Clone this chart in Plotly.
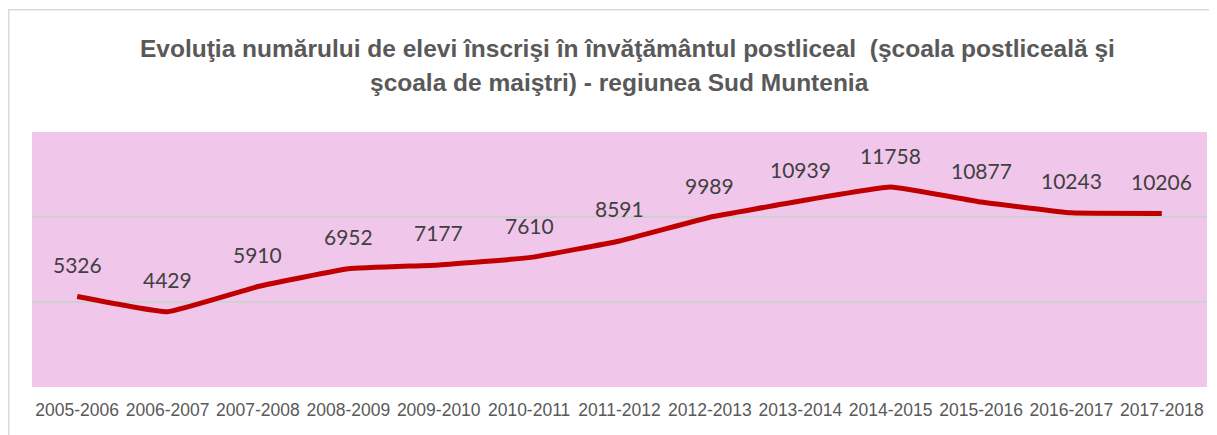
import plotly.graph_objects as go

years = ["2005-2006", "2006-2007", "2007-2008", "2008-2009", "2009-2010", "2010-2011",
         "2011-2012", "2012-2013", "2013-2014", "2014-2015", "2015-2016", "2016-2017", "2017-2018"]
elevi = [5326, 4429, 5910, 6952, 7177, 7610, 8591, 9989, 10939, 11758, 10877, 10243, 10206]
grid_vals = [0, 5000, 10000, 15000]

title_lines = ["Evoluţia numărului de elevi înscrişi în învăţământul postliceal  (şcoala postliceală şi",
               "şcoala de maiştri) - regiunea Sud Muntenia"]

fig = go.Figure()
fig.add_trace(go.Scatter(
    x=list(range(len(years))), y=elevi, mode="lines",
    line=dict(color="#C00000", width=5, shape="spline", smoothing=0.3),
    hoverinfo="x+y", showlegend=False,
))

for i, v in enumerate(elevi):
    fig.add_annotation(x=i, y=v, text=str(v), showarrow=False, yshift=32,
                       font=dict(family="Lato, Noto Sans, sans-serif", size=21, color="#404040"))

for line, ypos, xs in zip(title_lines, [1.3294, 1.1922], [8, 0]):
    fig.add_annotation(xref="paper", yref="paper", x=0.5, y=ypos, text=line, showarrow=False,
                       xanchor="center", yanchor="middle", xshift=xs,
                       font=dict(family="Liberation Sans, Arial, sans-serif", size=24.5,
                                 color="#595959", weight="bold"))

fig.add_shape(type="rect", xref="paper", yref="paper", x0=-0.0198, x1=1.03, y0=-0.4, y1=1.4794,
              line=dict(color="#D9D9D9", width=1.5), fillcolor="rgba(0,0,0,0)", layer="above")

fig.update_layout(
    width=1217, height=435, autosize=False,
    margin=dict(l=24, r=18, t=124, b=56, autoexpand=False),
    paper_bgcolor="white", plot_bgcolor="#F0C6EA",
    xaxis=dict(range=[-0.5, len(years) - 0.5], tickmode="array", tickvals=list(range(len(years))),
               ticktext=years, showgrid=False, zeroline=False, showline=False, ticks="",
               tickangle=0, automargin=False, ticklabelstandoff=10,
               tickfont=dict(family="Liberation Sans, Arial, sans-serif", size=17.5, color="#595959")),
    yaxis=dict(range=[0, 15000], tickmode="array", tickvals=grid_vals,
               showticklabels=False, showgrid=True, gridcolor="#D0D0D0", gridwidth=2,
               automargin=False, zeroline=False, showline=False, ticks=""),
)
fig.write_html("out.html")
